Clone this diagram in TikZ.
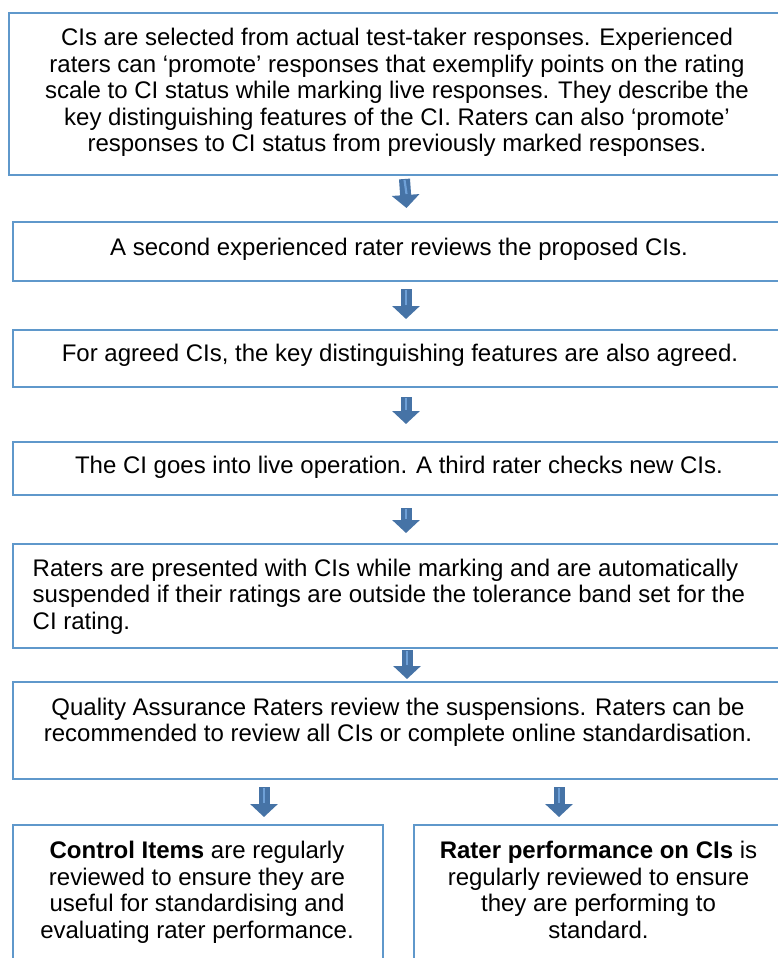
\documentclass[tikz,border=0pt]{standalone}
\usepackage{fontspec}
\setmainfont{Liberation Sans}
\usetikzlibrary{arrows.meta,calc}
\definecolor{frameblue}{RGB}{95,152,203}
\definecolor{arrowblue}{RGB}{70,115,166}
\definecolor{arrowshine}{RGB}{110,160,215}
\tikzset{
  stepbox/.style={draw=frameblue, line width=2pt, fill=none, inner sep=0pt,
    anchor=north west, rectangle},
  % anchor=base sits on the baseline of the last line of a node
  txt/.style={inner sep=0pt, anchor=base, align=center,
    font=\fontsize{24}{26.5}\selectfont},
  flow/.style={draw=arrowblue, line width=11pt,
    -{Triangle[width=27pt,length=13pt]}},
  shine/.style={draw=arrowshine, line width=2.2pt},
}
\begin{document}
\begin{tikzpicture}[x=1pt,y=-1pt]
\useasboundingbox[fill=white] (0,0) rectangle (778,958);

% frames of the process steps
\node[stepbox, minimum width=782pt, minimum height=162pt] (b1) at (8,12) {};
\node[stepbox, minimum width=778pt, minimum height=59pt]  (b2) at (12,221) {};
\node[stepbox, minimum width=778pt, minimum height=57pt]  (b3) at (12,329) {};
\node[stepbox, minimum width=778pt, minimum height=53pt]  (b4) at (12,441) {};
\node[stepbox, minimum width=778pt, minimum height=104pt] (b5) at (12,543) {};
\node[stepbox, minimum width=778pt, minimum height=97pt]  (b6) at (12,681) {};
\node[stepbox, minimum width=370pt, minimum height=160pt] (b7) at (12,824) {};
\node[stepbox, minimum width=371pt, minimum height=160pt] (b8) at (413,824) {};

% texts of the steps
\node[txt] (t1) at (397,151.7) {CIs are selected from actual test-taker responses. Experienced\\
raters can ‘promote’ responses that exemplify points on the rating\\
scale to CI status while marking live responses. They describe the\\
key distinguishing features of the CI. Raters can also ‘promote’\\
responses to CI status from previously marked responses.};
\node[txt] (t2) at (399,255) {A second experienced rater reviews the proposed CIs.};
\node[txt] (t3) at (400,361.7) {For agreed CIs, the key distinguishing features are also agreed.};
\node[txt] (t4) at (399,473.3) {The CI goes into live operation. A third rater checks new CIs.};
\node[txt, anchor=base west, align=left] (t5) at (32.5,629.3) {Raters are presented with CIs while marking and are automatically\\
suspended if their ratings are outside the tolerance band set for the\\
CI rating.};
\node[txt] (t6) at (398,741.7) {Quality Assurance Raters review the suspensions. Raters can be\\
recommended to review all CIs or complete online standardisation.};
\node[txt] (t7) at (197,938.3) {\textbf{Control Items} are regularly\\
reviewed to ensure they are\\
useful for standardising and\\
evaluating rater performance.};
\node[txt] (t8) at (598.5,938.3) {\textbf{Rater performance on CIs} is\\
regularly reviewed to ensure\\
they are performing to\\
standard.};

% block arrows between the steps
\draw[flow] ($(b1.south)+(4.5,3)$) -- ($(b2.north)+(4.5,-13)$);
\draw[shine] ($(b1.south)+(4.5,4)$) -- ($(b2.north)+(4.5,-27)$);
\draw[flow] ($(b2.south)+(4,7)$) -- ($(b3.north)+(4,-10)$);
\draw[shine] ($(b2.south)+(4,8)$) -- ($(b3.north)+(4,-24)$);
\draw[flow] ($(b3.south)+(4,9)$) -- ($(b4.north)+(4,-17)$);
\draw[shine] ($(b3.south)+(4,10)$) -- ($(b4.north)+(4,-31)$);
\draw[flow] ($(b4.south)+(4,12)$) -- ($(b5.north)+(4,-10)$);
\draw[shine] ($(b4.south)+(4,13)$) -- ($(b5.north)+(4,-24)$);
\draw[flow] ($(b5.south)+(5,1)$) -- ($(b6.north)+(5,-2)$);
\draw[shine] ($(b5.south)+(5,2)$) -- ($(b6.north)+(5,-16)$);
\draw[flow] ($(b6.south)+(-138,7)$) -- ($(b7.north)+(66,-7)$);
\draw[shine] ($(b6.south)+(-138,8)$) -- ($(b7.north)+(66,-21)$);
\draw[flow] ($(b6.south)+(157,7)$) -- ($(b8.north)+(-40.5,-7)$);
\draw[shine] ($(b6.south)+(157,8)$) -- ($(b8.north)+(-40.5,-21)$);
\end{tikzpicture}
\end{document}
